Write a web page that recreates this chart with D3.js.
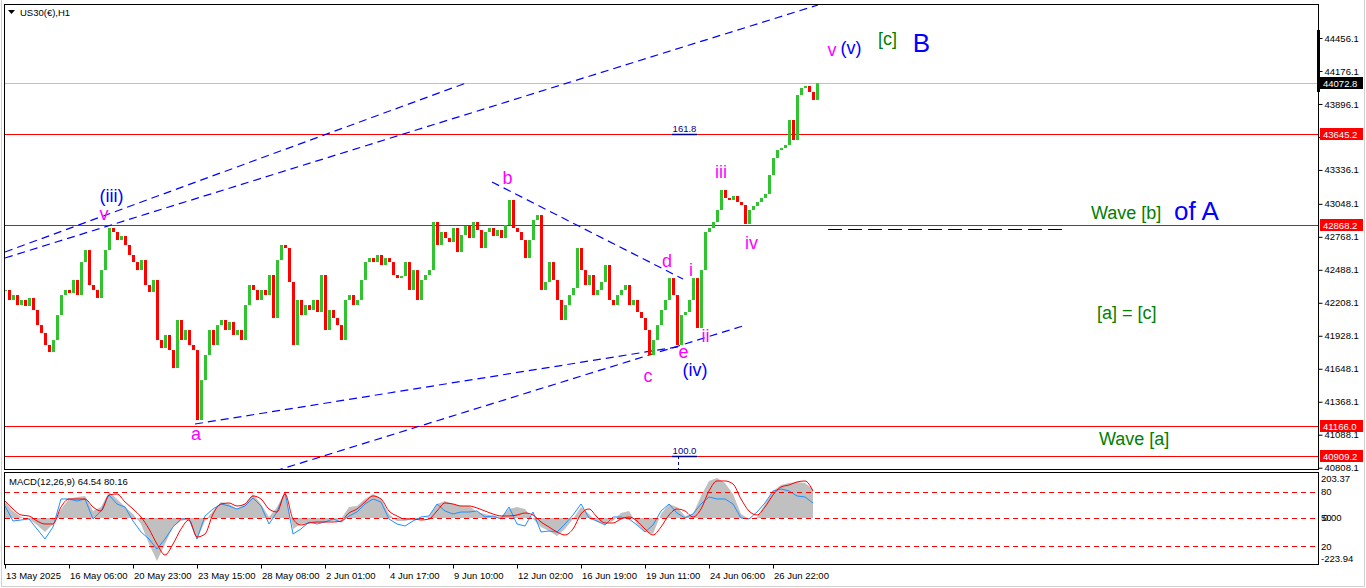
<!DOCTYPE html>
<html><head><meta charset="utf-8">
<script src="https://cdn.jsdelivr.net/npm/d3@7"></script>
<style>
body{margin:0;background:#fff}
svg{display:block}
text{font-family:"Liberation Sans",Arial,sans-serif}
</style></head>
<body><svg id="c" width="1366" height="588"></svg>
<script>
// ---------- DATA ----------
// US30 H1 closes, one value per 4 hourly bars
const closes = [
42317,42232,42274,42189,42232,42181,42249,42147,42019,41952,41850,41790,41892,42104,42274,42317,42291,42402,42274,42554,
42656,42359,42317,42249,42486,42656,42843,42809,42741,42775,42699,42614,42554,42486,42571,42359,42300,42402,41892,41824,
41935,41807,41654,42062,41892,41977,41850,41807,41213,41552,41765,41977,41850,42019,42062,41977,42045,41935,41977,41892,
42189,42359,42317,42232,42317,42274,42444,42079,42571,42699,42673,42385,41850,42232,42104,42189,42147,42232,42130,42444,
41977,42147,42079,42019,41892,42232,42274,42189,42232,42402,42554,42588,42554,42614,42529,42588,42554,42444,42418,42435,
42554,42317,42486,42232,42402,42444,42486,42894,42699,42809,42758,42724,42843,42639,42784,42860,42758,42894,42826,42673,
42809,42843,42775,42826,42758,42868,43081,42843,42809,42741,42588,42741,42911,42953,42317,42385,42554,42402,42232,42062,
42189,42274,42334,42673,42486,42359,42444,42274,42317,42385,42529,42232,42189,42274,42317,42359,42189,42232,42130,42079,
41977,41765,41892,42019,42147,42232,42418,42274,41850,42104,42130,42232,42418,41994,42486,42809,42843,42894,42996,43166,
43098,43081,43115,43064,43038,42877,42996,43030,43064,43098,43132,43293,43437,43505,43522,43548,43760,43590,43972,44032,
44049,43998,43930,44073
];
// MACD(12,26,9), one value per 8 hourly bars
const macdMain = [
80,35,5,-5,-35,-70,-30,45,95,105,110,35,55,130,95,55,20,-30,-130,-215,
-130,-45,-15,-5,-105,-15,35,80,70,45,70,120,70,5,55,130,-55,-30,-25,-25,
-20,-15,-5,55,60,95,120,95,20,-15,-15,-5,-5,5,70,85,70,60,60,30,
20,10,5,45,55,45,-5,-45,-65,-90,-55,-5,55,20,-20,-30,-15,25,35,-30,
-70,-80,20,70,55,10,20,110,185,200,175,120,20,-5,5,70,135,165,175,180,
175,145
];
const macdSignal = [
85,45,15,10,-15,-30,-30,55,95,95,95,55,35,115,120,80,45,5,-55,-130,
-185,-130,-55,-10,-95,-80,20,70,75,60,70,110,95,45,30,120,-5,-35,-25,-20,
-20,-20,-15,25,45,80,110,95,35,10,-5,-5,-10,-5,35,75,70,60,60,50,
35,20,10,10,15,25,15,-20,-45,-70,-85,-55,20,45,5,-25,-25,-5,5,-15,
-55,-85,-45,15,45,35,5,45,135,185,185,170,95,35,15,55,115,155,165,180,
185,135
];
const macdBlue = [
60,-15,-10,-5,-55,-105,-45,95,95,85,95,-5,35,115,70,55,-15,-70,-105,-155,
-105,-45,-5,-5,-105,10,45,70,60,45,60,100,60,-30,30,130,-80,-55,-20,-30,
-20,-5,-20,10,30,70,95,80,-5,-30,-40,-15,5,10,70,35,20,30,30,35,
5,10,-5,55,-30,-40,30,-70,-65,-70,-30,15,70,0,-15,-35,5,5,-5,-35,
-70,-35,35,70,25,0,20,70,105,95,95,70,0,-5,30,75,135,145,135,110,
105,75
];
const priceTicks = [44456.1,44176.1,43896.1,43616.1,43336.1,43048.1,42768.1,42488.1,42208.1,41928.1,41648.1,41368.1,41088.1,40808.1];
const levelPrices = [43645.2, 42868.2, 41166.0, 40909.2];
const currentPrice = 44072.8;
const timeLabels = ["13 May 2025","16 May 06:00","20 May 23:00","23 May 15:00","28 May 08:00","2 Jun 01:00","4 Jun 17:00","9 Jun 10:00","12 Jun 02:00","16 Jun 19:00","19 Jun 11:00","24 Jun 06:00","26 Jun 22:00"];
const macdLevels = [130, 0, -140];
const macdLevelLabels = ["80","50","20"];
const macdRange = [-223.94, 203.37];

// ---------- LAYOUT ----------
const svg = d3.select("#c");
const L = 4, R = 1318, T = 4, B = 469, MT = 472, MB = 564;
const UP = "#2fc42f", DN = "#ff0000";
const x = d3.scaleLinear().domain([0, 813]).range([5, 818]);          // hourly bar index -> px
const y = d3.scaleLinear().domain([40808.1, 44456.1]).range([467.7, 38]);
const my = d3.scaleLinear().domain(macdRange).range([562.8, 477.3]);

// light outer window border
svg.append("path").attr("d","M1.5,0 V586.5 H1364.5 V0").attr("fill","none").attr("stroke","#d0d0d0");

const defs = svg.append("defs");
defs.append("clipPath").attr("id","cm").append("rect").attr("x",L).attr("y",T).attr("width",R-L).attr("height",B-T);
defs.append("clipPath").attr("id","cd").append("rect").attr("x",L).attr("y",MT).attr("width",R-L).attr("height",MB-MT);

const main = svg.append("g").attr("clip-path","url(#cm)");

// current price line (grey)
main.append("line").attr("x1",L).attr("x2",R).attr("y1",Math.round(y(currentPrice))+0.5).attr("y2",Math.round(y(currentPrice))+0.5).attr("stroke","#c0c0c0");
// horizontal red levels
main.selectAll(".lvl").data(levelPrices).join("line")
  .attr("x1",L).attr("x2",R)
  .attr("y1",d=>Math.round(y(d))+0.5).attr("y2",d=>Math.round(y(d))+0.5)
  .attr("stroke","#ff0000").attr("stroke-width",1);

// blue dashed trend lines (pixel end points)
const tl = [
  [5,252,466,83],[5,258,818,5],[195,424,683,346],[275,471,746,325],[492,182,683,279]
];
main.selectAll(".tl").data(tl).join("line")
  .attr("x1",d=>d[0]).attr("y1",d=>d[1]).attr("x2",d=>d[2]).attr("y2",d=>d[3])
  .attr("stroke","#0000ff").attr("stroke-width",1.2).attr("stroke-dasharray","8,5");

// black long dash line
main.append("line").attr("x1",828).attr("x2",1062).attr("y1",229.5).attr("y2",229.5)
  .attr("stroke","#000").attr("stroke-dasharray","14,6");

// fib labels
function fib(txt, price){
  const yy = Math.round(y(price));
  main.append("line").attr("x1",672).attr("x2",697).attr("y1",yy+0.5).attr("y2",yy+0.5).attr("stroke","#00008b").attr("stroke-width",1.5);
  main.append("text").attr("x",684.5).attr("y",yy-2).attr("text-anchor","middle").attr("font-size",9.5).attr("fill","#00008b").text(txt);
}
fib("161.8", 43645.2);
fib("100.0", 40909.2);
main.append("line").attr("x1",678.5).attr("x2",678.5).attr("y1",Math.round(y(40909.2))).attr("y2",B)
  .attr("stroke","#00008b").attr("stroke-dasharray","3,3");

// price bars
const bars = closes.map((c,i)=>({i, o: i>0?closes[i-1]:c, c}));
main.selectAll(".bar").data(bars).join("rect")
  .attr("x",d=>x(d.i*4)-1).attr("width",3)
  .attr("y",d=>Math.min(y(d.o),y(d.c)))
  .attr("height",d=>Math.max(1,Math.abs(y(d.o)-y(d.c))))
  .attr("fill",d=>d.c>=d.o?UP:DN);

// frames
svg.append("rect").attr("x",L+0.5).attr("y",T+0.5).attr("width",R-L).attr("height",B-T).attr("fill","none").attr("stroke","#000");
svg.append("rect").attr("x",L+0.5).attr("y",MT+0.5).attr("width",R-L).attr("height",MB-MT).attr("fill","none").attr("stroke","#000");

// title
svg.append("path").attr("d","M8,10 L15,10 L11.5,14 Z").attr("fill","#000");
svg.append("text").attr("x",20).attr("y",16).attr("font-size",9.5).text("US30(€),H1");

// price axis
const ya = svg.append("g").attr("transform",`translate(${R+0.5},0)`)
  .call(d3.axisRight(y).tickValues(priceTicks).tickSize(4).tickPadding(2).tickFormat(d=>d.toFixed(1)));
ya.select(".domain").remove();
ya.selectAll("text").attr("font-size",9.5).attr("font-family","Liberation Sans, Arial, sans-serif").attr("fill","#000");
ya.selectAll("line").attr("stroke","#000");
svg.append("rect").attr("x",1317).attr("y",30).attr("width",3).attr("height",62).attr("fill","#000");

function tag(price, bg){
  const yy = Math.round(y(price));
  svg.append("rect").attr("x",1320).attr("y",yy-6).attr("width",43).attr("height",12).attr("fill",bg);
  svg.append("text").attr("x",1323).attr("y",yy+3.5).attr("font-size",9.5).attr("fill","#fff").text(price.toFixed(1));
}
levelPrices.forEach(p=>tag(p,"#ff0000"));
tag(currentPrice,"#000");

// annotations
function ann(t,xx,yy,size,col,anchor){
  svg.append("text").attr("x",xx).attr("y",yy).attr("font-size",size).attr("fill",col)
    .attr("text-anchor",anchor||"middle").text(t);
}
const MAG="#ff00ff", BLU="#0000ff", GRN="#008000";
ann("(iii)",111.5,202,18,BLU);
ann("v",104,220,18,MAG);
ann("a",196,440,18,MAG);
ann("b",507.5,184,18,MAG);
ann("c",648,382,18,MAG);
ann("d",667,267,18,MAG);
ann("i",691,276,18,MAG);
ann("ii",705.5,342,18,MAG);
ann("e",683.5,358,18,MAG);
ann("(iv)",695,376,18,BLU);
ann("iii",721,178,18,MAG);
ann("iv",751.5,249,18,MAG);
ann("v",832,56,18,MAG);
ann("(v)",851,54,18,BLU);
ann("[c]",887.5,45,18,GRN);
ann("B",921.5,52,26,BLU);
ann("Wave [b]",1091,219,18,GRN,"start");
ann("of A",1174,220,26,BLU,"start");
ann("[a] = [c]",1097,319,18,GRN,"start");
ann("Wave [a]",1099,445,18,GRN,"start");

// ---------- MACD ----------
const md = svg.append("g").attr("clip-path","url(#cd)");
const mx = j => x(j*8);
md.append("path").datum(macdMain)
  .attr("d",d3.area().x((d,j)=>mx(j)).y0(my(0)).y1(d=>my(d)))
  .attr("fill","#c0c0c0");
md.append("path").datum(macdBlue)
  .attr("d",d3.line().x((d,j)=>mx(j)).y(d=>my(d)))
  .attr("fill","none").attr("stroke","#1e90ff").attr("stroke-width",1);
md.append("path").datum(macdSignal)
  .attr("d",d3.line().x((d,j)=>mx(j)).y(d=>my(d)).curve(d3.curveMonotoneX))
  .attr("fill","none").attr("stroke","#ff0000").attr("stroke-width",1);
const mlv = md.append("g");
macdLevels.forEach(v=>{
  const yy = Math.round(my(v));
  mlv.append("path").attr("d",`M${L+1},${yy+0.5}H${R}`)
    .style("stroke","#ff0000").style("stroke-width","1").style("stroke-dasharray","5,4").style("fill","none");
});
svg.append("text").attr("x",9).attr("y",485).attr("font-size",9.5).text("MACD(12,26,9) 64.54 80.16");

// MACD axis labels
const mlab = [["203.37",my(macdRange[1])+5],["-223.94",my(macdRange[0])-1]];
mlab.forEach(d=>svg.append("text").attr("x",1321).attr("y",d[1]).attr("font-size",9.5).text(d[0]));
macdLevels.forEach((v,k)=>svg.append("text").attr("x",1321).attr("y",my(v)+3.5).attr("font-size",9.5).text(macdLevelLabels[k]));
svg.append("text").attr("x",1323).attr("y",my(0)+3.5).attr("font-size",9.5).text("0.00");

// time axis
const xt = svg.append("g").attr("transform",`translate(0,${MB+0.5})`)
  .call(d3.axisBottom(x).tickValues(timeLabels.map((t,k)=>k*64)).tickSize(4).tickFormat(()=>""));
xt.select(".domain").remove();
xt.selectAll("line").attr("stroke","#000");
svg.selectAll(".tl2").data(timeLabels).join("text")
  .attr("x",(d,k)=>x(k*64)+1).attr("y",579).attr("font-size",9.5).text(d=>d);
</script></body></html>
